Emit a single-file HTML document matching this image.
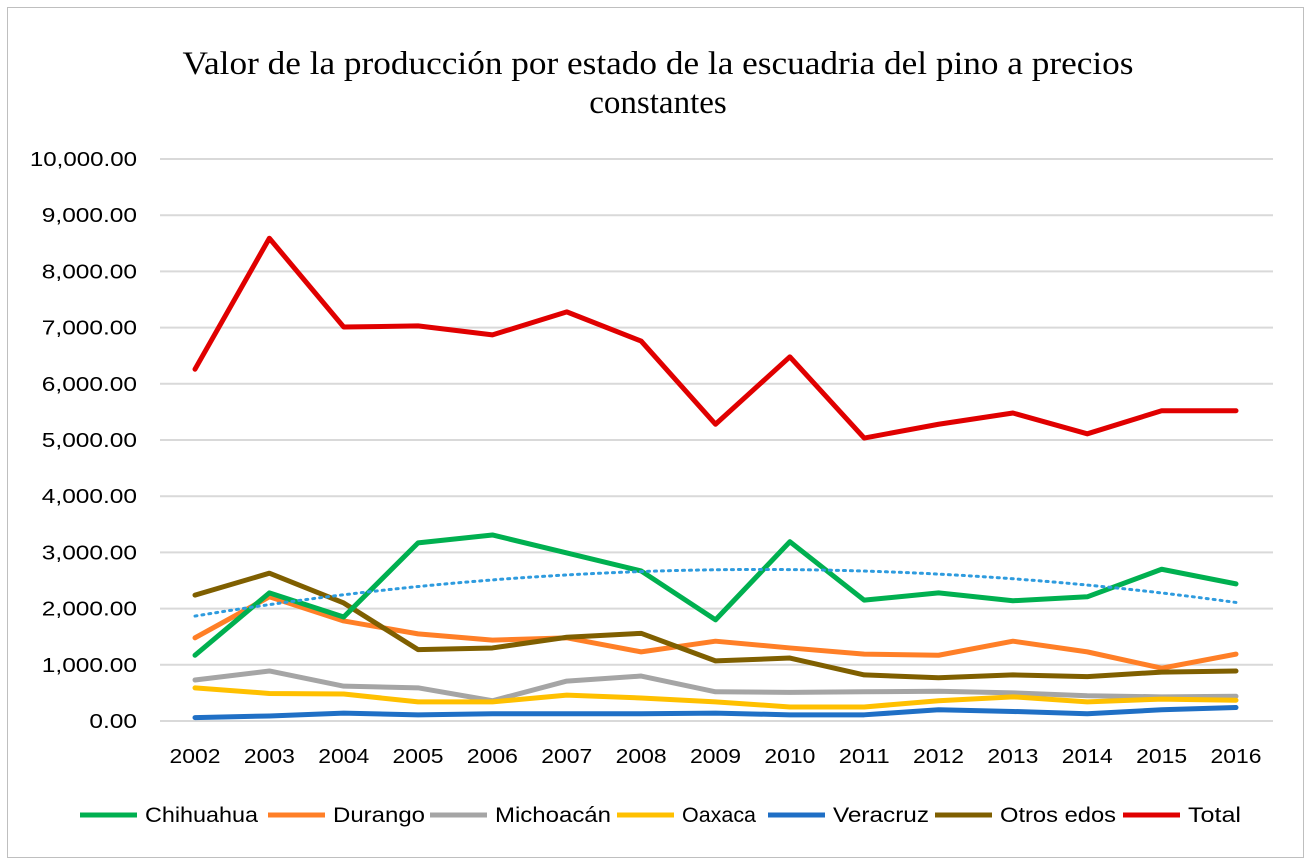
<!DOCTYPE html>
<html><head><meta charset="utf-8">
<style>
body{margin:0;background:#fff;width:1311px;height:865px;overflow:hidden}
svg{display:block;font-family:"Liberation Sans",sans-serif}
</style></head>
<body>
<svg id="c" width="1311" height="865">
<rect x="7.5" y="7.5" width="1296" height="850" fill="#fff" stroke="#bfbfbf"/>
<text x="658" y="74" text-anchor="middle" font-family="Liberation Serif,serif" font-size="33" textLength="951" lengthAdjust="spacingAndGlyphs" fill="#000">Valor de la producción por estado de la escuadria del pino a precios</text>
<text x="658" y="113" text-anchor="middle" font-family="Liberation Serif,serif" font-size="33" fill="#000">constantes</text>
<g id="grid"></g><g id="series"></g><g id="legend"></g>
</svg>
<script>
const years=["2002","2003","2004","2005","2006","2007","2008","2009","2010","2011","2012","2013","2014","2015","2016"];
const yTicks=[0,1000,2000,3000,4000,5000,6000,7000,8000,9000,10000];
const chihuahua=[1170,2280,1850,3170,3310,2990,2670,1800,3190,2150,2280,2140,2210,2700,2440];
const durango=[1480,2210,1780,1550,1440,1480,1230,1420,1300,1190,1170,1420,1230,940,1190];
const michoacan=[730,890,620,590,360,710,800,520,510,520,530,500,450,430,440];
const oaxaca=[590,490,480,340,340,460,410,340,250,250,360,430,340,390,370];
const veracruz=[60,90,140,110,130,130,130,140,110,110,200,170,130,200,240];
const otros=[2240,2630,2100,1270,1300,1490,1560,1070,1120,820,770,820,790,870,890];
const total=[6260,8590,7010,7030,6870,7280,6760,5280,6480,5035,5280,5480,5110,5520,5520];
const seriesNames=["Chihuahua","Durango","Michoacán","Oaxaca","Veracruz","Otros edos","Total"];
const seriesData=[chihuahua,durango,michoacan,oaxaca,veracruz,otros,total];
const colors=["#00b050","#ff7f27","#a5a5a5","#ffc000","#1f6fc5","#7f5f00","#e00000"];
const NS="http://www.w3.org/2000/svg";
const x0=195,x1=1236,yb=721,yt=159;
const X=i=>x0+(x1-x0)*i/(years.length-1);
const Y=v=>yb-(yb-yt)*v/10000;
function mk(t,a,p){const e=document.createElementNS(NS,t);for(const k in a)e.setAttribute(k,a[k]);p.appendChild(e);return e;}
const g=document.getElementById('grid');
yTicks.forEach(v=>{
 const l=mk('line',{x1:160,x2:1273,y1:Y(v),y2:Y(v),stroke:'#d9d9d9','stroke-width':2},g);
 
 
 const txt=v.toLocaleString('en-US',{minimumFractionDigits:2});
 const t=mk('text',{x:137,y:Y(v)+7,'text-anchor':'end','font-size':20,fill:'#000',textLength:txt.length*11.9,lengthAdjust:'spacingAndGlyphs'},g);
 t.textContent=txt;
 
 
});
years.forEach((y,i)=>{
 const t=mk('text',{x:X(i),y:763,'text-anchor':'middle','font-size':20,fill:'#000',textLength:51,lengthAdjust:'spacingAndGlyphs'},g);
 t.textContent=y;
 
 
});
const s=document.getElementById('series');
const order=[2,3,4,1,5,0,6];
order.forEach(k=>{
 const p=mk('polyline',{points:seriesData[k].map((v,i)=>X(i)+','+Y(v)).join(' '),fill:'none',stroke:colors[k],'stroke-width':5,'stroke-linejoin':'round','stroke-linecap':'round'},s);
 
 
});
(function(){
 const n=chihuahua.length;let S=[0,0,0,0,0],T=[0,0,0];
 for(let i=0;i<n;i++){const x=i+1;for(let p=0;p<5;p++)S[p]+=Math.pow(x,p);for(let p=0;p<3;p++)T[p]+=chihuahua[i]*Math.pow(x,p);}
 const A=[[S[0],S[1],S[2],T[0]],[S[1],S[2],S[3],T[1]],[S[2],S[3],S[4],T[2]]];
 for(let c=0;c<3;c++){for(let r=c+1;r<3;r++){const f=A[r][c]/A[c][c];for(let k=c;k<4;k++)A[r][k]-=f*A[c][k];}}
 const co=[0,0,0];for(let r=2;r>=0;r--){let v=A[r][3];for(let k=r+1;k<3;k++)v-=A[r][k]*co[k];co[r]=v/A[r][r];}
 const pts=[];for(let i=0;i<=140;i++){const x=1+i/10;pts.push(X(i/10)+','+Y(co[0]+co[1]*x+co[2]*x*x));}
 const p=mk('polyline',{points:pts.join(' '),fill:'none',stroke:'#2e9bde','stroke-width':3,'stroke-dasharray':'2 5','stroke-linecap':'round'},s);
 
 
})();
const lg=document.getElementById('legend');
const lx=[80,268,430,617,768,935,1123];
const lw=[113,92,116,74,96,116,53];
seriesNames.forEach((n,k)=>{
 const l=mk('line',{x1:lx[k],x2:lx[k]+57,y1:815,y2:815,stroke:colors[k],'stroke-width':5},lg);
 
 
 const t=mk('text',{x:lx[k]+65,y:822,'font-size':21,fill:'#000',textLength:lw[k],lengthAdjust:'spacingAndGlyphs'},lg);
 t.textContent=n;
 
 
});
</script>
</body></html>
